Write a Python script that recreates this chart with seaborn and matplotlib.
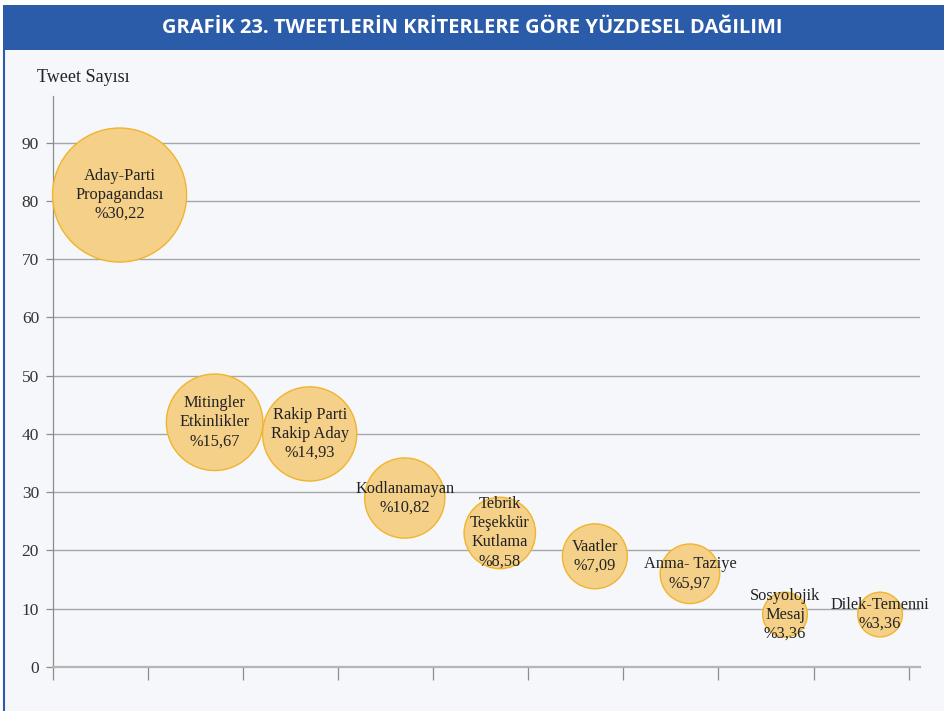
import pandas as pd
import matplotlib.pyplot as plt
import seaborn as sns
from matplotlib.patches import Rectangle
from matplotlib.lines import Line2D

# veri
kategoriler = ['Aday-Parti\nPropagandası', 'Mitingler\nEtkinlikler', 'Rakip Parti\nRakip Aday',
               'Kodlanamayan', 'Tebrik\nTeşekkür\nKutlama', 'Vaatler', 'Anma- Taziye',
               'Sosyolojik\nMesaj', 'Dilek-Temenni']
sira = [1, 2, 3, 4, 5, 6, 7, 8, 9]
tweet_sayisi = [81, 42, 40, 29, 23, 19, 16, 9, 9]
yuzde = [30.22, 15.67, 14.93, 10.82, 8.58, 7.09, 5.97, 3.36, 3.36]
yuzde_etiket = ['%30,22', '%15,67', '%14,93', '%10,82', '%8,58', '%7,09', '%5,97', '%3,36', '%3,36']
y_ticks = [0, 10, 20, 30, 40, 50, 60, 70, 80, 90]

df = pd.DataFrame({'sira': sira, 'tweet': tweet_sayisi, 'yuzde': yuzde})

sns.set_style('white')
plt.rcParams['font.family'] = ['Liberation Serif', 'DejaVu Serif']

bg = '#f5f7fb'
mavi = '#2a5ca9'

fig = plt.figure(figsize=(9.45, 7.11), dpi=100, facecolor=bg)
fig.patches.append(Rectangle((0, 1 - 5 / 711), 1, 5 / 711, transform=fig.transFigure,
                             facecolor='white', edgecolor='none', zorder=0))
fig.patches.append(Rectangle((0, 0), 3 / 945, 1, transform=fig.transFigure,
                             facecolor='white', edgecolor='none', zorder=0))
fig.patches.append(Rectangle((3 / 945, 1 - 50 / 711), 1, 45 / 711, transform=fig.transFigure,
                             facecolor=mavi, edgecolor='none', zorder=1))
fig.lines.append(Line2D([4 / 945, 4 / 945], [0, 1 - 50 / 711], transform=fig.transFigure,
                        color=mavi, linewidth=1.5))
fig.text(0.5, 1 - 28 / 711, 'GRAFİK 23. TWEETLERİN KRİTERLERE GÖRE YÜZDESEL DAĞILIMI',
         ha='center', va='center', color='white', fontsize=14.5, fontweight='bold',
         family=['Open Sans', 'DejaVu Sans'])
fig.text(37 / 945, 1 - 78 / 711, 'Tweet Sayısı', ha='left', va='center', fontsize=13, color='#222222')

ax = fig.add_axes([53 / 945, 1 - 667 / 711, (920 - 53) / 945, (667 - 96) / 711])
ax.set_facecolor(bg)

smax = 96.5 ** 2
sns.scatterplot(data=df, x='sira', y='tweet', size='yuzde',
                sizes=(smax * min(yuzde) / max(yuzde), smax), size_norm=(min(yuzde), max(yuzde)),
                color='#f5d089', edgecolor='#f0b52c', linewidth=1.0, alpha=1,
                legend=False, ax=ax, zorder=3, clip_on=False)

for xi, yi, k, e in zip(sira, tweet_sayisi, kategoriler, yuzde_etiket):
    ax.text(xi, yi, k + '\n' + e, ha='center', va='center', fontsize=11.8,
            color='#222222', linespacing=1.25, zorder=4)

ax.set_xlim(0.3, 9.42)
ax.set_ylim(0, 98)
ax.set_yticks(y_ticks)
ax.set_yticklabels([str(t) for t in y_ticks], fontsize=12.5, color='#333333')
ax.set_xticks([0.3 + i for i in range(10)])
ax.set_xticklabels([])
ax.set_xlabel('')
ax.set_ylabel('')
for t in y_ticks[1:]:
    ax.axhline(t, color='#a6a6a6', linewidth=1.0, zorder=1)

for s in ['top', 'right']:
    ax.spines[s].set_visible(False)
ax.spines['left'].set_color('#8c8c8c')
ax.spines['left'].set_linewidth(0.9)
ax.spines['bottom'].set_color('#b5b5b5')
ax.spines['bottom'].set_linewidth(1.6)
ax.tick_params(axis='y', left=True, direction='out', length=5, color='#8c8c8c', width=0.9, pad=5)
ax.tick_params(axis='x', bottom=True, direction='out', length=9, color='#8c8c8c', width=0.9)

fig.savefig('out.png', dpi=100, facecolor=fig.get_facecolor())
